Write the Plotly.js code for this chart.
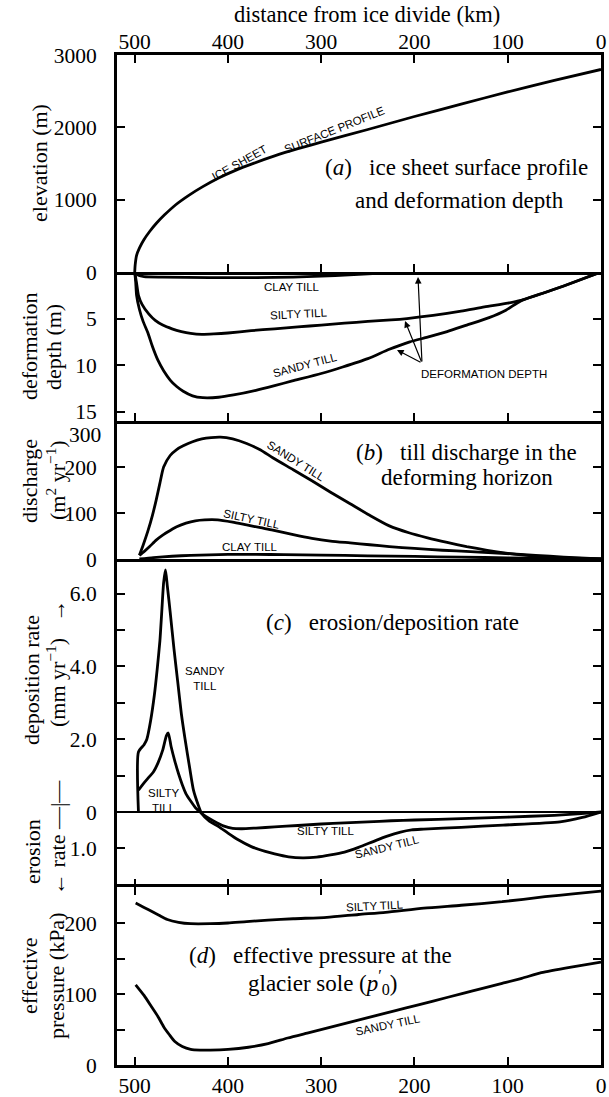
<!DOCTYPE html>
<html><head><meta charset="utf-8">
<script src="https://cdn.plot.ly/plotly-3.0.1.min.js"></script>
<style>html,body{margin:0;padding:0;background:#fff}</style>
</head><body><div id="chart" style="width:609px;height:1097px"></div>
<script>
// ---------- DATA ----------
const kmTicks = [500, 400, 300, 200, 100, 0];
const kmTickText = ['500', '400', '300', '200', '100', '0'];

// (a) ice sheet surface profile (elevation, m)
const elevKm = [500, 499.5, 498, 495, 490, 484, 477, 468, 456, 442, 427, 410, 392, 372, 350, 325, 300, 250, 200, 150, 100, 50, 0];
const elevM  = [0, 100, 230, 330, 450, 560, 670, 790, 930, 1060, 1180, 1300, 1405, 1505, 1605, 1705, 1795, 1970, 2150, 2320, 2490, 2650, 2800];

// (a) deformation depth (m)
const depthClayKm = [500, 496, 490, 470, 420, 370, 330, 300, 270, 240, 200, 150, 100, 0];
const depthClay   = [0, 0.35, 0.5, 0.55, 0.6, 0.6, 0.55, 0.45, 0.3, 0.15, 0.07, 0.03, 0.02, 0];
const depthSiltyKm = [500, 498, 496, 492, 485, 478, 470, 460, 450, 440, 428, 415, 400, 375, 350, 325, 300, 275, 250, 225, 208, 180, 150, 125, 100, 86, 60, 40, 20, 0];
const depthSilty   = [0, 1.2, 2.5, 3.5, 4.5, 5.2, 5.7, 6.1, 6.4, 6.6, 6.7, 6.65, 6.55, 6.3, 6.1, 5.9, 5.7, 5.5, 5.3, 5.15, 5.0, 4.65, 4.2, 3.75, 3.35, 3.05, 2.2, 1.5, 0.75, 0];
const depthSandyKm = [500, 499, 498, 495, 491, 486, 481, 475, 469, 462, 455, 448, 438, 427, 410, 394, 370, 350, 331, 300, 277, 250, 227, 205, 186, 165, 144, 120, 102, 86, 60, 40, 20, 0];
const depthSandy   = [0, 1, 2.5, 4, 5.3, 6.5, 8, 9.5, 10.6, 11.6, 12.3, 12.8, 13.3, 13.5, 13.45, 13.2, 12.7, 12.2, 11.7, 10.9, 10.2, 9.3, 8.3, 7.5, 7.0, 6.4, 5.7, 4.9, 4.1, 3.1, 2.2, 1.5, 0.75, 0];

// (b) till discharge (m2/yr)
const qSandyKm = [495, 491, 486, 481, 477, 473, 469, 462, 455, 448, 438, 428, 418, 408, 395, 380, 365, 352, 330, 310, 290, 269, 248, 227, 206, 186, 165, 144, 122, 102, 80, 60, 30, 0];
const qSandy   = [8, 30, 60, 95, 128, 165, 200, 225, 238, 246, 255, 261, 264, 265, 261, 251, 237, 220, 194, 170, 145, 120, 95, 72, 57, 46, 36, 27, 19, 13, 8, 4.5, 2, 0];
const qSiltyKm = [495, 490, 484, 477, 470, 462, 455, 445, 435, 425, 411, 395, 380, 365, 352, 330, 310, 290, 269, 248, 227, 200, 170, 140, 102, 70, 40, 0];
const qSilty   = [8, 16, 27, 41, 52, 62, 70, 78, 83, 85, 85, 80, 74, 68, 63, 53, 45, 39, 35, 31, 27, 23, 19, 16, 12, 8, 4, 0];
const qClayKm = [495, 480, 460, 440, 420, 400, 370, 340, 300, 250, 200, 150, 100, 50, 0];
const qClay   = [0, 3, 6, 8, 9, 10, 10, 9.5, 8.5, 7, 5.5, 4, 2.5, 1.2, 0];

// (c) erosion (-) / deposition (+) rate (mm/yr)
const rSandyKm = [496, 496, 490, 487, 483, 479, 476, 473, 471, 469, 467, 465, 462, 458, 454, 450, 446, 441, 437, 432, 428, 420, 410, 400, 390, 375, 360, 350, 335, 320, 305, 290, 275, 260, 245, 230, 215, 203, 190, 150, 105, 44, 20, 0];
const rSandy   = [0, 1.65, 1.85, 2.0, 2.5, 3.2, 3.9, 4.7, 5.5, 6.3, 6.65, 6.2, 5.5, 4.5, 3.6, 2.7, 2.0, 1.2, 0.6, 0.2, -0.05, -0.25, -0.4, -0.58, -0.75, -0.95, -1.08, -1.15, -1.23, -1.26, -1.24, -1.18, -1.1, -0.97, -0.82, -0.67, -0.55, -0.49, -0.47, -0.42, -0.36, -0.27, -0.15, 0];
const rSiltyKm = [496, 490, 485, 480, 475, 470, 466, 464, 461, 457, 453, 449, 445, 440, 435, 430, 425, 415, 405, 395, 385, 370, 350, 325, 300, 275, 250, 225, 200, 150, 100, 50, 25, 0];
const rSilty   = [0.6, 0.8, 0.95, 1.1, 1.35, 1.7, 2.1, 2.17, 1.8, 1.4, 1.05, 0.75, 0.5, 0.3, 0.12, 0, -0.1, -0.25, -0.38, -0.45, -0.46, -0.44, -0.41, -0.37, -0.33, -0.3, -0.27, -0.24, -0.22, -0.18, -0.14, -0.09, -0.05, 0];

// (d) effective pressure at the glacier sole (kPa)
const pSiltyKm = [499, 490, 480, 474, 465, 453, 440, 419, 400, 380, 357, 330, 294, 260, 231, 190, 150, 106, 60, 30, 0];
const pSilty   = [228, 222, 215, 211, 205, 201, 199, 199, 200, 202, 204, 206, 208, 212, 215, 221, 225, 230, 237, 241, 245];
const pSandyKm = [499, 490, 482, 475, 469, 463, 457, 449, 440, 430, 419, 400, 378, 357, 336, 315, 294, 273, 252, 231, 210, 180, 148, 127, 106, 85, 64, 32, 0];
const pSandy   = [113, 98, 82, 68, 54, 43, 33, 26, 22, 21, 21, 22, 25, 30, 38, 45, 52, 59, 66, 73, 80, 90, 101, 108, 115, 122, 130, 138, 145];

// tick labels
const elevTicks = [1000, 2000, 3000], elevTickText = ['1000', '2000', '3000'];
const depthTicks = [0, 5, 10, 15], depthTickText = ['0', '5', '10', '15'];
const qTicks = [0, 100, 200], qTickText = ['0', '100', '200'];
const qTopLabel = '300';
const rTicks = [-1, 0, 2, 4, 6], rTickText = ['1.0', '0', '2.0', '4.0', '6.0'];
const rMinorTicks = [1, 3, 5];
const pTicks = [0, 100, 200], pTickText = ['0', '100', '200'];
const pMinorTicks = [50, 150];

// ---------- LAYOUT HELPERS ----------
const L = 117, R = 601, T = 55, B = 1065;
const fx = px => (px - L) / (R - L);
const fy = py => (B - py) / (B - T);
const SERIF = 'Liberation Serif, Times New Roman, serif';
const SANS = 'Liberation Sans, Arial, sans-serif';

const lineStyle = {color: '#000', width: 2.8, shape: 'spline', smoothing: 0.6};
function tr(x, y, xa, ya) {
  return {x: x, y: y, xaxis: xa, yaxis: ya, mode: 'lines', line: lineStyle, hoverinfo: 'skip', showlegend: false};
}
const data = [
  tr(elevKm, elevM, 'x5', 'y5'),
  tr(depthClayKm, depthClay, 'x4', 'y4'),
  tr(depthSiltyKm, depthSilty, 'x4', 'y4'),
  tr(depthSandyKm, depthSandy, 'x4', 'y4'),
  tr(qSandyKm, qSandy, 'x3', 'y3'),
  tr(qSiltyKm, qSilty, 'x3', 'y3'),
  tr(qClayKm, qClay, 'x3', 'y3'),
  tr(rSandyKm, rSandy, 'x2', 'y2'),
  tr(rSiltyKm, rSilty, 'x2', 'y2'),
  tr(pSiltyKm, pSilty, 'x', 'y'),
  tr(pSandyKm, pSandy, 'x', 'y')
];

const tickFont = {family: SERIF, size: 21.5, color: '#000'};
const base = {showline: true, linewidth: 3, linecolor: '#000', ticks: 'inside', ticklen: 8, tickwidth: 2,
  tickcolor: '#000', showgrid: false, zeroline: false, tickfont: tickFont, fixedrange: true};
const minorTicks = vals => ({tickmode: 'array', tickvals: vals, ticks: 'inside', ticklen: 8, tickwidth: 2, tickcolor: '#000', showgrid: false});
function xa(extra) { return Object.assign({}, base, {domain: [0, 1], range: [519, 0], tickvals: kmTicks, ticktext: kmTickText, showticklabels: false}, extra); }
function ya(extra) { return Object.assign({}, base, {mirror: 'ticks', ticklabelstandoff: 13}, extra); }

const annotations = [];
function lab(px, py, text, size, family, angle, extra) {
  annotations.push(Object.assign({xref: 'paper', yref: 'paper', x: fx(px), y: fy(py), text: text, showarrow: false,
    xanchor: 'center', yanchor: 'middle', textangle: angle || 0, font: {family: family, size: size, color: '#000'}}, extra || {}));
}
function arrow(hx, hy, tx, ty) {
  annotations.push({xref: 'paper', yref: 'paper', x: fx(hx), y: fy(hy), ax: tx - hx, ay: ty - hy, text: '',
    showarrow: true, arrowhead: 2, arrowsize: 1.1, arrowwidth: 1.2, arrowcolor: '#000', standoff: 0});
}

// top axis title
lab(367, 15, 'distance from ice divide (km)', 22.5, SERIF);
// axis titles (rotated)
lab(39, 163, 'elevation (m)', 22, SERIF, -90);
lab(29, 346, 'deformation', 22, SERIF, -90);
lab(53, 347, 'depth (m)', 22, SERIF, -90);
lab(29, 481, 'discharge', 22, SERIF, -90);
lab(56, 480, '(m<sup>2</sup> yr<sup>\u22121</sup>)', 22, SERIF, -90);
lab(31, 680, 'deposition rate', 22, SERIF, -90);
lab(56, 663, '(mm yr<sup>\u22121</sup>)\u00a0\u00a0\u00a0\u2192', 22, SERIF, -90);
lab(32, 852, 'erosion', 22, SERIF, -90);
lab(57, 838, '\u2190 rate \u2014|\u2014', 22, SERIF, -90);
lab(29, 976, 'effective', 22, SERIF, -90);
lab(56, 976, 'pressure (kPa)', 22, SERIF, -90);
// top tick label of panel (b), drawn just below its tick as in the original
lab(103, 435, qTopLabel, 21.5, SERIF, 0, {xanchor: 'right'});

// panel titles
lab(456, 167, '(<i>a</i>)\u00a0\u00a0 ice sheet surface profile', 23, SERIF);
lab(459, 200, 'and deformation depth', 23, SERIF);
lab(466, 452, '(<i>b</i>)\u00a0\u00a0 till discharge in the', 23, SERIF);
lab(467, 477, 'deforming horizon', 23, SERIF);
lab(392, 622, '(<i>c</i>)\u00a0\u00a0 erosion/deposition rate', 23, SERIF);
lab(320, 955, '(<i>d</i>)\u00a0\u00a0 effective pressure at the', 23, SERIF);
lab(323, 982, 'glacier sole (<i>p</i><sup>\u2032</sup><sub>0</sub>)', 23, SERIF);

// curve labels
const S = 11.5;
lab(239, 163, 'ICE SHEET', S, SANS, -29);
lab(334, 130, 'SURFACE PROFILE', S, SANS, -22);
lab(292, 287, 'CLAY TILL', S, SANS);
lab(298, 314, 'SILTY TILL', S, SANS, -3);
lab(305, 365, 'SANDY TILL', S, SANS, -15);
lab(484, 374, 'DEFORMATION DEPTH', S, SANS);
arrow(418, 277, 422, 363);
arrow(405, 321, 422, 363);
arrow(397, 350, 422, 363);
lab(296, 461, 'SANDY TILL', S, SANS, 32);
lab(251, 519, 'SILTY TILL', S, SANS, 12);
lab(250, 547, 'CLAY TILL', S, SANS);
lab(205, 678, 'SANDY<br>TILL', S, SANS);
lab(163, 800, 'SILTY<br>TILL', S, SANS);
lab(325, 831, 'SILTY TILL', S, SANS);
lab(387, 847, 'SANDY TILL', S, SANS, -14);
lab(374, 906, 'SILTY TILL', S, SANS, -3);
lab(388, 1025, 'SANDY TILL', S, SANS, -12);

const layout = {
  width: 609, height: 1097,
  margin: {l: L, r: 609 - R, t: T, b: 1097 - B, pad: 0},
  paper_bgcolor: '#fff', plot_bgcolor: '#fff',
  font: {family: SERIF, color: '#000'},
  showlegend: false,
  xaxis: xa({anchor: 'y', showticklabels: true, mirror: 'ticks', ticklabelstandoff: -1}),
  xaxis2: xa({anchor: 'y2', showline: false}),
  xaxis3: xa({anchor: 'y3', ticks: '', linewidth: 2.5}),
  xaxis4: xa({anchor: 'y4', linewidth: 2.5}),
  xaxis5: xa({anchor: 'y5', side: 'top', showticklabels: true, mirror: 'ticks', ticklabelstandoff: -6}),
  yaxis: ya({anchor: 'x', domain: [0, fy(887)], range: [0, 250.7], tickvals: pTicks, ticktext: pTickText, minor: minorTicks(pMinorTicks)}),
  yaxis2: ya({anchor: 'x2', domain: [fy(887), fy(559)], range: [-2.06, 6.95], tickvals: rTicks, ticktext: rTickText,
    minor: minorTicks(rMinorTicks), zeroline: true, zerolinewidth: 1.3, zerolinecolor: '#000'}),
  yaxis3: ya({anchor: 'x3', domain: [fy(559), fy(421)], range: [0, 300], tickvals: qTicks, ticktext: qTickText}),
  yaxis4: ya({anchor: 'x4', domain: [fy(421), fy(272)], range: [16, 0], tickvals: depthTicks, ticktext: depthTickText}),
  yaxis5: ya({anchor: 'x5', domain: [fy(272), 1], range: [0, 3000], tickvals: elevTicks, ticktext: elevTickText}),
  annotations: annotations
};

Plotly.newPlot('chart', data, layout, {staticPlot: true, displayModeBar: false});
</script>
</body></html>
